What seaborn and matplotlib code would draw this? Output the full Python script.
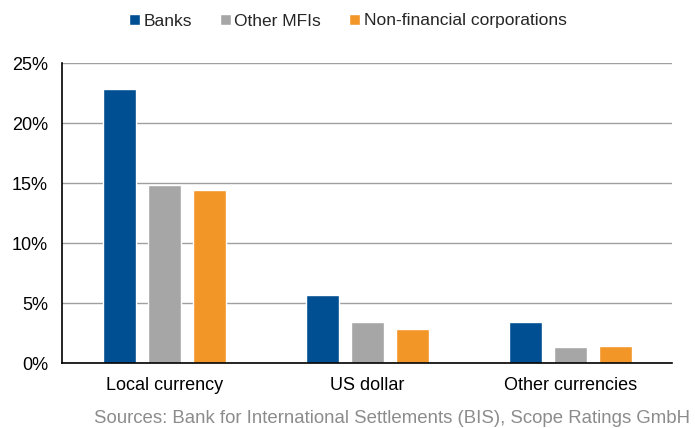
import matplotlib
matplotlib.use("Agg")
import matplotlib.pyplot as plt
import seaborn as sns
import pandas as pd
from matplotlib.ticker import PercentFormatter

categories = ["Local currency", "US dollar", "Other currencies"]
series = ["Banks", "Other MFIs", "Non-financial corporations"]
banks = [22.8, 5.7, 3.45]
other_mfis = [14.8, 3.4, 1.3]
nfc = [14.4, 2.8, 1.45]
colors = ["#004f93", "#a6a6a6", "#f39628"]

rows = []
for s, vals in zip(series, [banks, other_mfis, nfc]):
    for c, v in zip(categories, vals):
        rows.append({"category": c, "series": s, "value": v})
df = pd.DataFrame(rows)

sns.set_theme(style="white")
plt.rcParams["font.family"] = ["Liberation Sans", "DejaVu Sans"]

fig = plt.figure(figsize=(6.95, 4.28), dpi=100)
ax = fig.add_axes([62/695, 1-363/428, 610/695, 300/428])
sns.barplot(data=df, x="category", y="value", hue="series", order=categories,
            hue_order=series, palette=colors, width=0.667, gap=0.27,
            saturation=1, ax=ax, legend=True)

ax.set_ylim(0, 25)
ax.set_xlim(-0.505, 2.5)
ax.set_yticks([0, 5, 10, 15, 20, 25])
ax.yaxis.set_major_formatter(PercentFormatter(decimals=0))
ax.grid(axis="y", color="#a0a0a0", linewidth=1)
ax.set_axisbelow(True)
ax.set_xlabel("")
ax.set_ylabel("")
for side in ["top", "right"]:
    ax.spines[side].set_visible(False)
for side in ["left", "bottom"]:
    ax.spines[side].set_color("black")
    ax.spines[side].set_linewidth(1.2)
ax.tick_params(axis="both", length=0, labelsize=13, colors="black")
ax.tick_params(axis="x", pad=10)
ax.tick_params(axis="y", pad=10)

handles, labels = ax.get_legend_handles_labels()
ax.legend(handles, labels, loc="center", bbox_to_anchor=(0.5, 1-21/428),
          bbox_transform=fig.transFigure, ncol=3, frameon=False, fontsize=12.5,
          handlelength=0.65, handleheight=0.65, handletextpad=0.2, columnspacing=1.6)

fig.text(690/695, 1-427/428, "Sources: Bank for International Settlements (BIS), Scope Ratings GmbH",
         ha="right", va="bottom", color="#8c8c8c", fontsize=13.4)

fig.savefig("out.png", dpi=100)
